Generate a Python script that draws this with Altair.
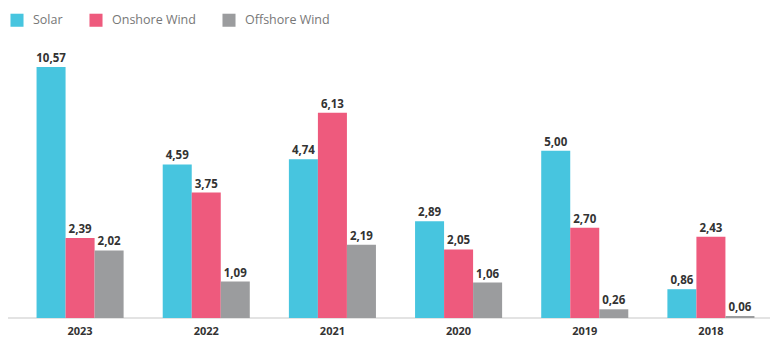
import altair as alt
import pandas as pd

years = ["2023", "2022", "2021", "2020", "2019", "2018"]
series = ["Solar", "Onshore Wind", "Offshore Wind"]
solar = [10.57, 4.59, 4.74, 2.89, 5.00, 0.86]
onshore = [2.39, 3.75, 6.13, 2.05, 2.70, 2.43]
offshore = [2.02, 1.09, 2.19, 1.06, 0.26, 0.06]
colors = ["#47C5DF", "#EE5A7D", "#9B9C9E"]

rows = []
for i, y in enumerate(years):
    for s, vals in zip(series, [solar, onshore, offshore]):
        v = vals[i]
        rows.append({"year": y, "series": s, "value": v,
                     "label": f"{v:.2f}".replace(".", ",")})
df = pd.DataFrame(rows)

FONT = "Open Sans"

base = alt.Chart(df).encode(
    x=alt.X("year:N", sort=years, title=None,
            scale=alt.Scale(paddingInner=0.31, paddingOuter=0.155),
            axis=alt.Axis(labelAngle=0, ticks=False, domain=False,
                          labelFont=FONT, labelFontSize=11,
                          labelFontWeight="bold", labelColor="#333333",
                          labelPadding=7)),
    xOffset=alt.XOffset("series:N", sort=series,
                        scale=alt.Scale(paddingInner=0, paddingOuter=0)),
    y=alt.Y("value:Q", title=None,
            scale=alt.Scale(domain=[0, 7.5], clamp=True, nice=False),
            axis=None),
)

baseline = alt.Chart(pd.DataFrame({"k": [0]})).mark_rule(
    color="#C8C8C8", strokeWidth=1.2
).encode(x=alt.value(-17), x2=alt.value(753), y=alt.value(251))

bars = base.mark_bar().encode(
    color=alt.Color("series:N", sort=series,
                    scale=alt.Scale(domain=series, range=colors),
                    legend=alt.Legend(title=None, orient="none", direction="horizontal",
                                      legendX=-7, legendY=-54,
                                      symbolType="square", symbolSize=170,
                                      symbolStrokeWidth=0, symbolOpacity=1,
                                      labelFont=FONT, labelFontSize=12.5,
                                      labelColor="#777777", labelOffset=9,
                                      columnPadding=26, padding=0))
)

labels = base.mark_text(baseline="bottom", dy=-3, font=FONT, fontSize=11.5,
                        fontWeight="bold", color="#333333").encode(text="label:N")

chart = alt.layer(baseline, bars, labels).properties(
    width=757, height=251,
    padding={"left": 9, "top": 59, "right": 2, "bottom": 19},
    autosize=alt.AutoSizeParams(type="none"),
).configure(background="white").configure_view(stroke=None, strokeWidth=0)

chart.save("out.html", embed_options={"renderer": "svg", "actions": False})
